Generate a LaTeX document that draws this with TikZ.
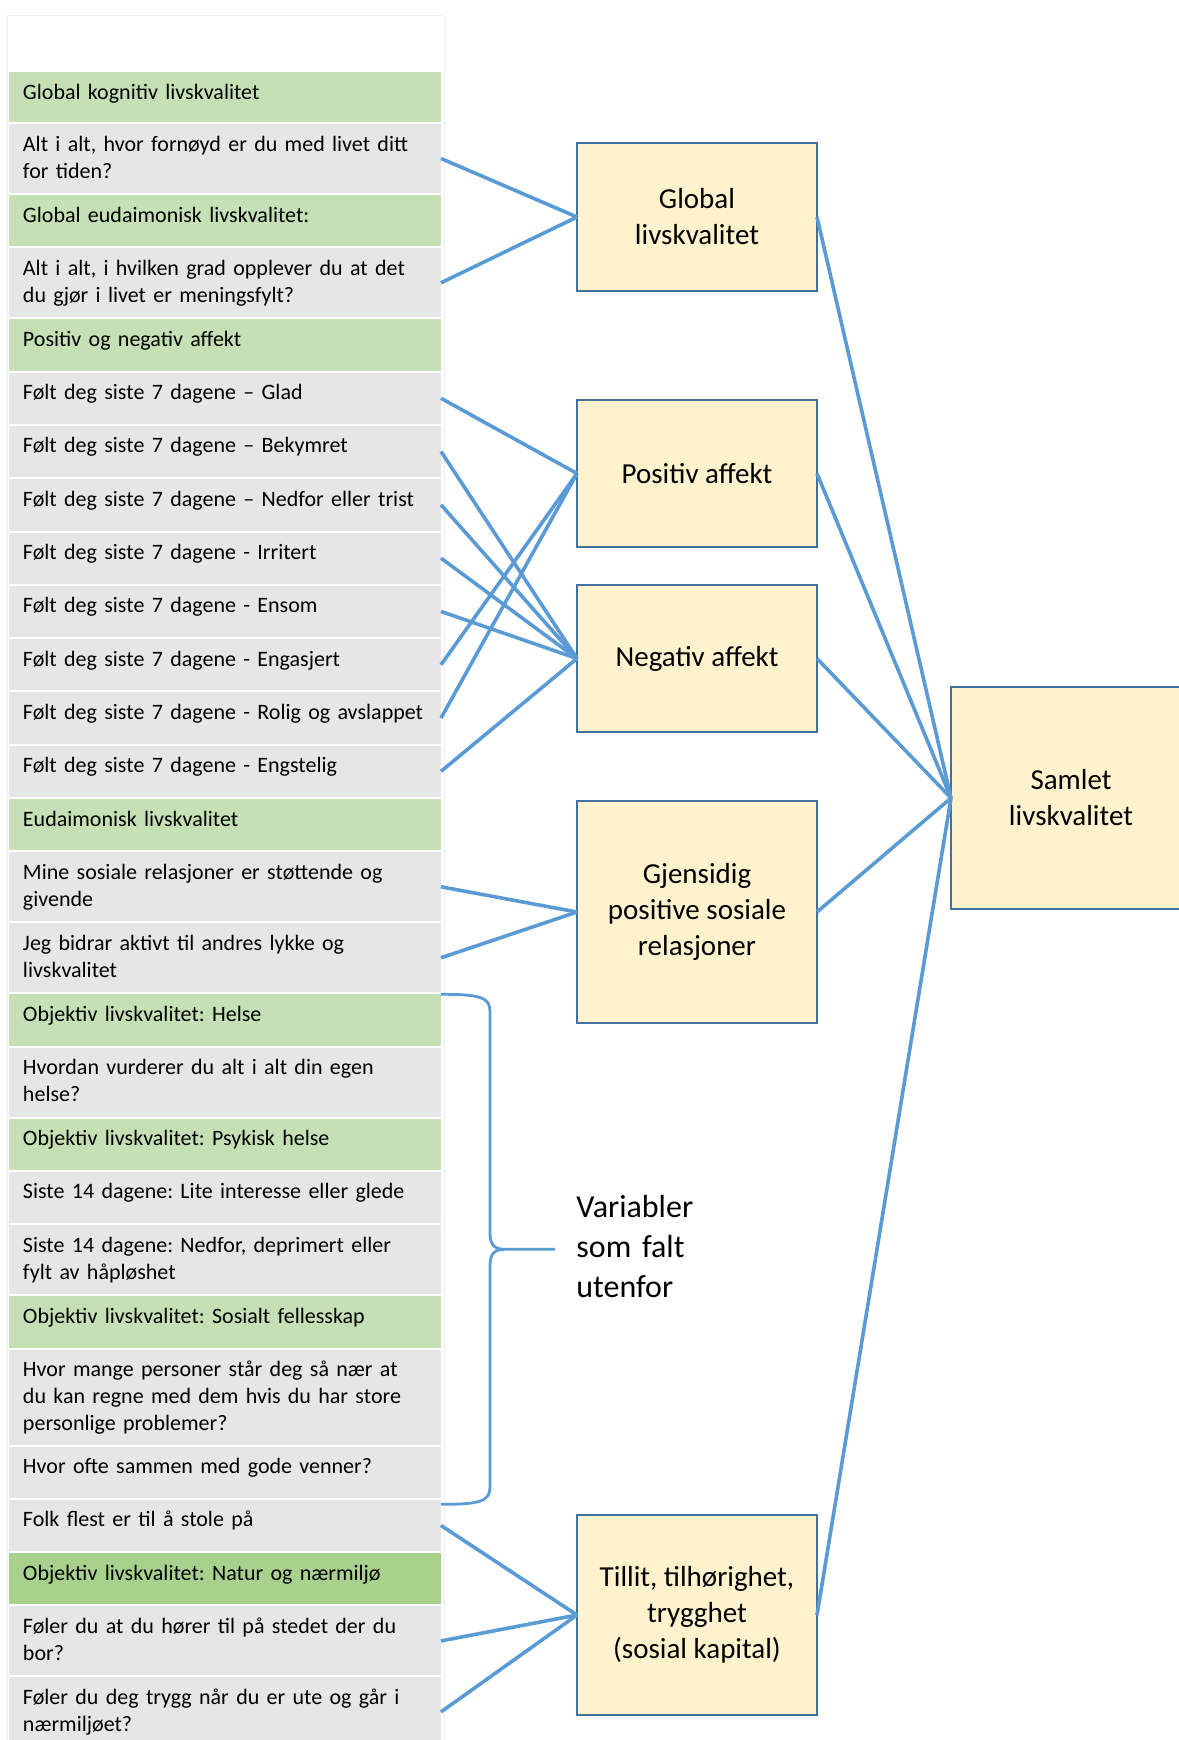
\documentclass[tikz,border=0pt]{standalone}
\usepackage{fontspec}
\setmainfont{Carlito}
\frenchspacing
\usetikzlibrary{positioning}
\definecolor{kategori}{HTML}{C5E0B4}
\definecolor{naturgronn}{HTML}{A9D18E}
\definecolor{sporsmal}{HTML}{E7E6E6}
\definecolor{boksfyll}{HTML}{FFF2CC}
\definecolor{bokskant}{HTML}{41719C}
\definecolor{linjeblaa}{HTML}{5B9BD5}
\tikzset{
  tabrow/.style={text width=202pt, inner xsep=7pt, inner ysep=0pt, outer sep=0pt, text height=13.5pt, align=left, font=\fontsize{11}{13.5}\selectfont},
  cat/.style={tabrow, fill=kategori},
  item/.style={tabrow, fill=sporsmal},
  one/.style={text depth=12.15pt},
  two/.style={text depth=21pt},
  three/.style={text depth=34pt},
  factor/.style={draw=bokskant, fill=boksfyll, line width=1pt, outer sep=0pt, minimum width=120pt, align=center, font=\fontsize{14.5}{18}\selectfont},
  link/.style={draw=linjeblaa, line width=1.8pt},
  bracket/.style={draw=linjeblaa, line width=1.4pt}
}

\begin{document}
\begin{tikzpicture}[x=0.5pt, y=-0.5pt]
  \useasboundingbox (0,0) rectangle (1178,1740);
  % faint frame of the empty table head
  \draw[black!6, line width=0.5pt] (7,1740) |- (444,15) -- (444,1740);

  % Left column: categories and questions
  \node (globkog) [cat, text depth=11.5pt, anchor=north west] at (9,72) {Global kognitiv livskvalitet};
  \node (fornoyd) [item, two, below=1pt of globkog] {Alt i alt, hvor fornøyd er du med livet ditt\\ for tiden?};
  \node (globeud) [cat, one, below=1pt of fornoyd] {Global eudaimonisk livskvalitet:};
  \node (mening) [item, two, below=1pt of globeud] {Alt i alt, i hvilken grad opplever du at det\\ du gjør i livet er meningsfylt?};
  \node (affekt) [cat, one, below=1pt of mening] {Positiv og negativ affekt};
  \node (glad) [item, one, below=1pt of affekt] {Følt deg siste 7 dagene -- Glad};
  \node (bekymret) [item, one, below=1pt of glad] {Følt deg siste 7 dagene -- Bekymret};
  \node (nedfor) [item, one, below=1pt of bekymret] {Følt deg siste 7 dagene -- Nedfor eller trist};
  \node (irritert) [item, one, below=1pt of nedfor] {Følt deg siste 7 dagene - Irritert};
  \node (ensom) [item, one, below=1pt of irritert] {Følt deg siste 7 dagene - Ensom};
  \node (engasjert) [item, one, below=1pt of ensom] {Følt deg siste 7 dagene - Engasjert};
  \node (rolig) [item, one, below=1pt of engasjert] {Følt deg siste 7 dagene - Rolig og avslappet};
  \node (engstelig) [item, one, below=1pt of rolig] {Følt deg siste 7 dagene - Engstelig};
  \node (eudai) [cat, one, below=1pt of engstelig] {Eudaimonisk livskvalitet};
  \node (relasjoner) [item, two, below=1pt of eudai] {Mine sosiale relasjoner er støttende og\\ givende};
  \node (bidrar) [item, two, below=1pt of relasjoner] {Jeg bidrar aktivt til andres lykke og\\ livskvalitet};
  \node (helse) [cat, one, below=1pt of bidrar] {Objektiv livskvalitet: Helse};
  \node (egenhelse) [item, two, below=1pt of helse] {Hvordan vurderer du alt i alt din egen\\ helse?};
  \node (psykisk) [cat, one, below=1pt of egenhelse] {Objektiv livskvalitet: Psykisk helse};
  \node (interesse) [item, one, below=1pt of psykisk] {Siste 14 dagene: Lite interesse eller glede};
  \node (deprimert) [item, two, below=1pt of interesse] {Siste 14 dagene: Nedfor, deprimert eller\\ fylt av håpløshet};
  \node (fellesskap) [cat, one, below=1pt of deprimert] {Objektiv livskvalitet: Sosialt fellesskap};
  \node (personer) [item, three, below=1pt of fellesskap] {Hvor mange personer står deg så nær at\\ du kan regne med dem hvis du har store\\ personlige problemer?};
  \node (venner) [item, one, below=1pt of personer] {Hvor ofte sammen med gode venner?};
  \node (stole) [item, one, below=1pt of venner] {Folk flest er til å stole på};
  \node (natur) [cat, one, fill=naturgronn, below=1pt of stole] {Objektiv livskvalitet: Natur og nærmiljø};
  \node (horer) [item, two, below=1pt of natur] {Føler du at du hører til på stedet der du\\ bor?};
  \node (trygg) [item, two, below=1pt of horer] {Føler du deg trygg når du er ute og går i\\ nærmiljøet?};

  % Factors
  \node (global) [factor, minimum height=74pt] at (697,217) {Global\\ livskvalitet};
  \node (positiv) [factor, minimum height=73.5pt, below=54.5pt of global] {Positiv affekt};
  \node (negativ) [factor, minimum height=73.5pt, below=19pt of positiv] {Negativ affekt};
  \node (gjensidig) [factor, minimum height=111pt, below=34.5pt of negativ] {Gjensidig\\ positive sosiale\\ relasjoner};
  \node (tillit) [factor, minimum height=100pt, below=246pt of gjensidig] {Tillit, tilhørighet,\\ trygghet\\ (sosial kapital)};
  \node (samlet) [factor, minimum height=111pt, right=67pt of gjensidig, yshift=57pt] {Samlet\\ livskvalitet};

  \node (utenfor) [anchor=base west, text width=80pt, inner sep=0pt, align=left, font=\fontsize{16}{20}\selectfont] at (576,1217) {Variabler\\ som falt\\ utenfor};

  % Brace over the variables that fell out
  \draw[bracket] (helse.north east) .. controls +(19.5pt,0) and +(0,7pt) .. ++(24.5pt,-8.5pt)
    -- ++(0,-111pt) .. controls +(0,-6pt) and +(-5pt,0) .. ++(7.5pt,-8pt) -- ++(25pt,0)
    ++(-25pt,0) .. controls +(-5pt,0) and +(0,6pt) .. ++(-7.5pt,-8pt)
    -- ++(0,-111pt) .. controls +(0,-7pt) and +(19.5pt,0) .. ++(-24.5pt,-8.5pt);

  % Questions to factors
  \draw[link] (fornoyd.east) -- (global.west);
  \draw[link] (mening.east) -- (global.west);
  \draw[link] (glad.east) -- (positiv.west);
  \draw[link] (engasjert.east) -- (positiv.west);
  \draw[link] (rolig.east) -- (positiv.west);
  \draw[link] (bekymret.east) -- (negativ.west);
  \draw[link] (nedfor.east) -- (negativ.west);
  \draw[link] (irritert.east) -- (negativ.west);
  \draw[link] (ensom.east) -- (negativ.west);
  \draw[link] (engstelig.east) -- (negativ.west);
  \draw[link] (relasjoner.east) -- (gjensidig.west);
  \draw[link] (bidrar.east) -- (gjensidig.west);
  \draw[link] (stole.east) -- (tillit.west);
  \draw[link] (horer.east) -- (tillit.west);
  \draw[link] (trygg.east) -- (tillit.west);

  % Factors to the total
  \draw[link] (global.east) -- (samlet.west);
  \draw[link] (positiv.east) -- (samlet.west);
  \draw[link] (negativ.east) -- (samlet.west);
  \draw[link] (gjensidig.east) -- (samlet.west);
  \draw[link] (tillit.east) -- (samlet.west);
\end{tikzpicture}
\end{document}
